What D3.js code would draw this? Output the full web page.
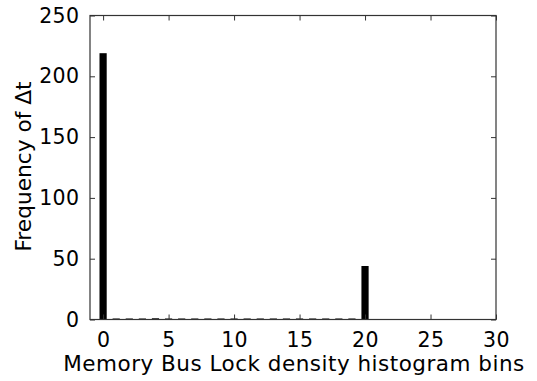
<!DOCTYPE html>
<html><head><meta charset="utf-8">
<script src="https://cdn.jsdelivr.net/npm/d3@7"></script>
<style>body{margin:0;background:#fff}svg{display:block}text{font-family:"DejaVu Sans",sans-serif;fill:#000}</style>
</head><body>
<svg id="c" width="537" height="381"></svg>
<script>
const bins = [0,1,2,3,4,5,6,7,8,9,10,11,12,13,14,15,16,17,18,19,20];
const freq = [219,0,0,0,1,0,0,0,0,0,0,0,0,0,0,0,0,0,0,0,44];
const xTicks = [0,5,10,15,20,25,30];
const yTicks = [0,50,100,150,200,250];

const svg = d3.select("#c");
const L=90, R=496, T=15.5, B=319.5;
const x = d3.scaleLinear().domain([-1,30]).range([L,R]);
const y = d3.scaleLinear().domain([0,250]).range([B,T]);
const bw = 0.55;

svg.append("g").selectAll("rect").data(bins.map((b,i)=>({b,v:freq[i]}))).join("rect")
  .attr("x", d=>x(d.b-bw/2))
  .attr("width", d=>x(d.b+bw/2)-x(d.b-bw/2))
  .attr("y", d=>Math.min(y(d.v), B-1))
  .attr("height", d=>Math.max(B-y(d.v),1))
  .attr("fill","#000");

const ax = d3.axisBottom(x).tickValues(xTicks).tickSize(-5).tickPadding(12.5).tickFormat(d3.format("d"));
const gx = svg.append("g").attr("transform",`translate(0,${B})`).call(ax);
const ay = d3.axisLeft(y).tickValues(yTicks).tickSize(-5).tickPadding(10.5).tickFormat(d3.format("d"));
const gy = svg.append("g").attr("transform",`translate(${L},0)`).call(ay);
svg.append("g").attr("transform",`translate(0,${T})`).call(d3.axisTop(x).tickValues(xTicks).tickSize(-5).tickFormat(""));
svg.append("g").attr("transform",`translate(${R},0)`).call(d3.axisRight(y).tickValues(yTicks).tickSize(-5).tickFormat(""));
svg.selectAll(".domain").remove();
svg.selectAll(".tick line").attr("stroke","#333").attr("stroke-width",1);
[gx,gy].forEach(g=>g.selectAll("text").style("font-size","20.5px").style("font-family","DejaVu Sans").style("letter-spacing","0.4px"));
gx.selectAll("text").attr("dy","0.71em");

svg.append("rect").attr("x",L).attr("y",T).attr("width",R-L).attr("height",B-T)
  .attr("fill","none").attr("stroke","#333").attr("stroke-width",1.2);

svg.append("text").attr("x",(L+R)/2 + 1).attr("y",371).attr("text-anchor","middle")
  .style("font-size","21.5px").style("letter-spacing","0.5px").text("Memory Bus Lock density histogram bins");
svg.append("text").attr("transform",`translate(31,${(T+B)/2 - 1}) rotate(-90)`).attr("text-anchor","middle")
  .style("font-size","21.7px").text("Frequency of Δt");
</script>
</body></html>
